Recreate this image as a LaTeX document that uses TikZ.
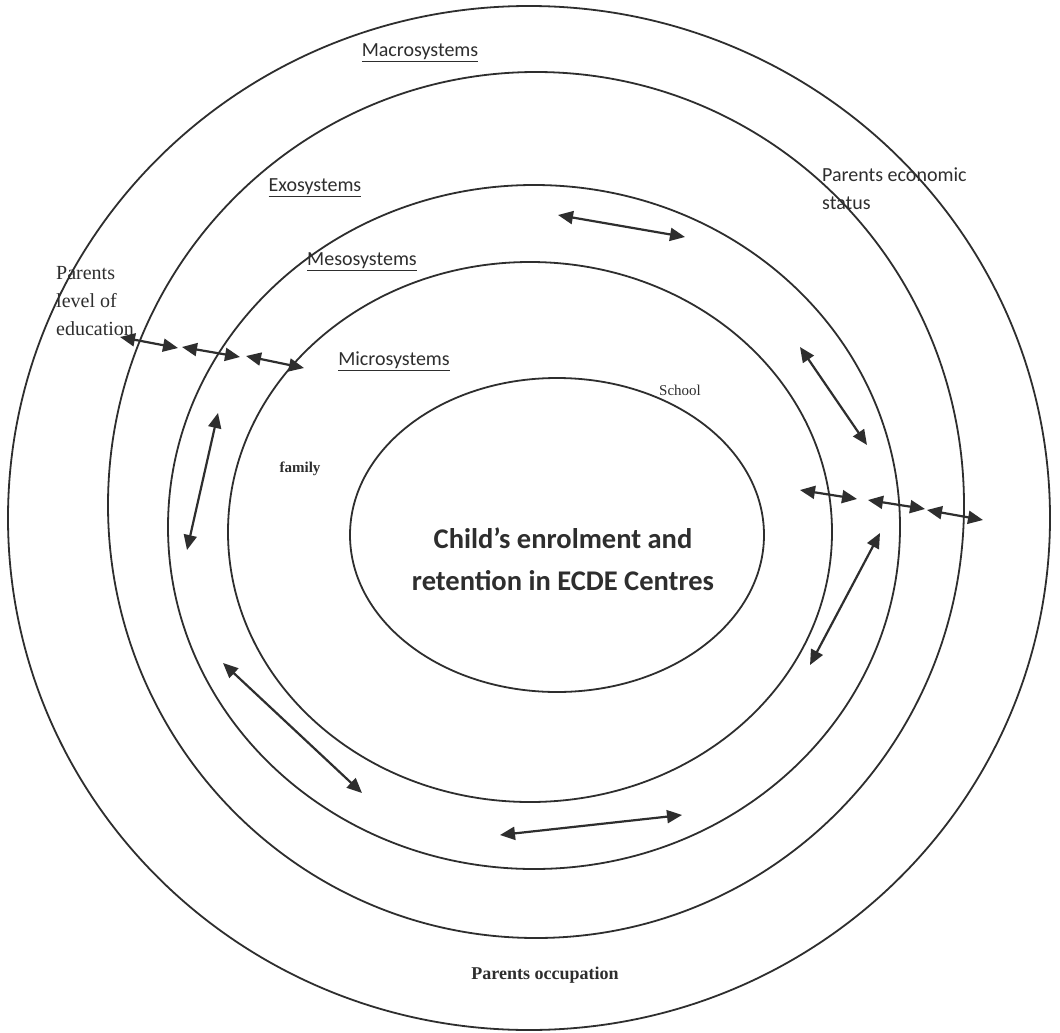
\documentclass[tikz,border=0pt]{standalone}
\usepackage{fontspec}
\setmainfont{Liberation Serif}
\newfontfamily\calfont{Carlito}
\usetikzlibrary{arrows.meta}
\definecolor{ink}{HTML}{2E2E2E}
\tikzset{
  ring/.style={draw=ink, line width=1.8pt},
  dbl/.style={draw=ink, fill=ink, line width=2.2pt,
    {Triangle[length=15pt,width=13pt]}-{Triangle[length=15pt,width=13pt]}},
  syslabel/.style={text=ink, font=\calfont\fontsize{20}{24}\selectfont, inner sep=0pt},
  serif/.style={text=ink, inner sep=0pt},
}
\begin{document}
\begin{tikzpicture}[x=1pt,y=-1pt]
\useasboundingbox[fill=white] (0,0) rectangle (1060,1033);
% rings
\draw[ring] (529,518) ellipse [x radius=521, y radius=512];
\draw[ring] (536,505) ellipse [x radius=428, y radius=433];
\draw[ring] (534,527) ellipse [x radius=366, y radius=342];
\draw[ring] (530,532) ellipse [x radius=302, y radius=270];
\draw[ring] (557,535) ellipse [x radius=207, y radius=157];
% labels
\node[syslabel] (macro) at (420,53) {\underline{Macrosystems}};
\node[syslabel] (exo) at (315,188) {\underline{Exosystems}};
\node[syslabel] (meso) at (362,262) {\underline{Mesosystems}};
\node[syslabel] (micro) at (394,361) {\underline{Microsystems}};
\node[syslabel, anchor=west, align=left, font=\calfont\fontsize{20}{28}\selectfont] (econ) at (822,189) {Parents economic\\status};
\node[serif, anchor=west, align=left, font=\fontsize{20}{28}\selectfont] (edu) at (56,301) {Parents\\level of\\education};
\node[serif, font=\fontsize{15}{18}\selectfont] (school) at (680,390) {School};
\node[serif, font=\bfseries\fontsize{15}{18}\selectfont] (family) at (300,469) {family};
\node[serif, font=\bfseries\fontsize{18}{22}\selectfont] (occ) at (545,975) {Parents occupation};
\node[text=ink, inner sep=0pt, align=center, font=\calfont\bfseries\fontsize{28.5}{42}\selectfont] (child) at (563,559) {Child’s enrolment and\\retention in ECDE Centres};
% arrow end points
\coordinate (a1s) at (558,215); \coordinate (a1e) at (685,237);
\coordinate (a2s) at (120,337); \coordinate (a2e) at (178,348);
\coordinate (a3s) at (182,347); \coordinate (a3e) at (240,357);
\coordinate (a4s) at (246,356); \coordinate (a4e) at (304,368);
\coordinate (a5s) at (218,413); \coordinate (a5e) at (187,550);
\coordinate (a6s) at (800,347); \coordinate (a6e) at (867,445);
\coordinate (a7s) at (800,490); \coordinate (a7e) at (857,499);
\coordinate (a8s) at (868,500); \coordinate (a8e) at (925,509);
\coordinate (a9s) at (927,510); \coordinate (a9e) at (983,520);
\coordinate (a10s) at (880,533); \coordinate (a10e) at (810,665);
\coordinate (a11s) at (223,663); \coordinate (a11e) at (362,793);
\coordinate (a12s) at (500,835); \coordinate (a12e) at (682,815);
\foreach \i in {1,...,12} { \draw[dbl] (a\i s) -- (a\i e); }
\end{tikzpicture}
\end{document}
